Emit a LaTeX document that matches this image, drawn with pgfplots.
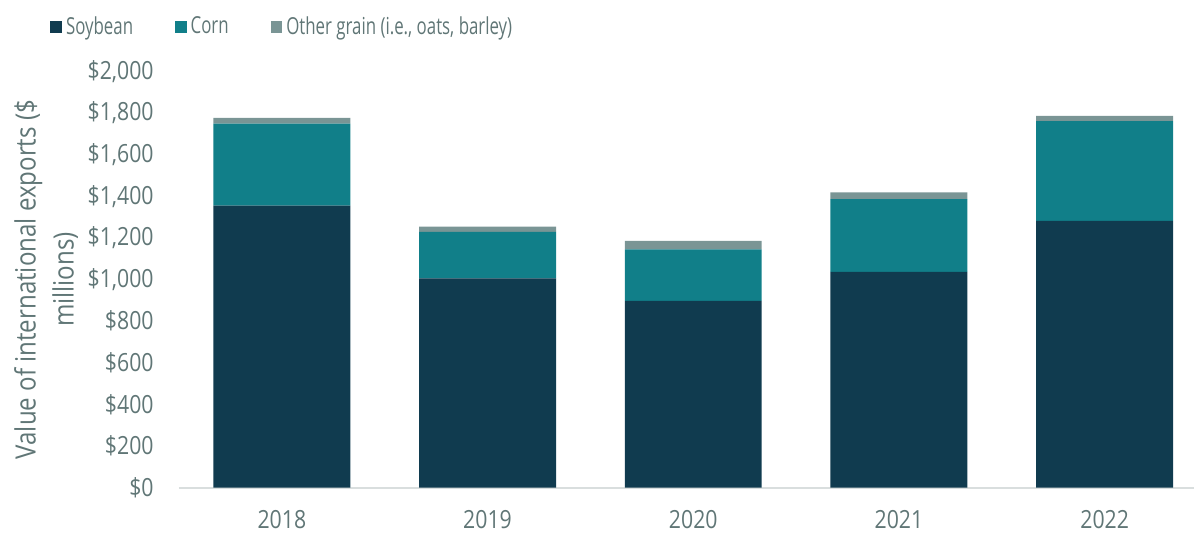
\documentclass[border=0pt]{standalone}
\usepackage{fontspec}
\usepackage{pgfplots}
\pgfplotsset{compat=1.18}
\setmainfont{Open Sans}
\newfontfamily\tickfont{Open Sans}[FakeStretch=0.85]
\newfontfamily\legfont{Open Sans}[FakeStretch=0.72]
\newfontfamily\labfont{Open Sans}[FakeStretch=0.86]
\definecolor{soy}{RGB}{16,59,79}
\definecolor{corn}{RGB}{17,127,137}
\definecolor{other}{RGB}{122,149,149}
\definecolor{txt}{RGB}{96,118,118}
\definecolor{base}{RGB}{217,222,222}
\begin{document}
\begin{tikzpicture}
  % page = 1194 x 534 px at 0.5pt per px
  \path[use as bounding box] (-89.5pt,-23.15pt) rectangle (507.5pt,243.85pt);
  \begin{axis}[
    at={(0,0)}, anchor=south west,
    scale only axis,
    width=514.25pt, height=208.1pt,
    ybar stacked,
    bar width=0.666,
    xmin=-0.5, xmax=4.5,
    ymin=0, ymax=2000,
    xtick={0,1,2,3,4},
    xticklabels={2018,2019,2020,2021,2022},
    ytick={0,200,...,2000},
    yticklabel={\$\pgfmathprintnumber{\tick}},
    /pgf/number format/.cd, fixed, precision=0, 1000 sep={,}, assume math mode=true,
    /pgfplots/.cd,
    axis x line*=bottom,
    axis y line*=left,
    x axis line style={draw=base, line width=0.9pt, -},
    y axis line style={draw=none},
    major tick length=0pt,
    tick label style={font=\tickfont\fontsize{12.5}{15}\selectfont, text=txt},
    yticklabel style={anchor=east, inner sep=0pt, xshift=-12.5pt},
    xticklabel style={anchor=north, inner sep=0pt, yshift=-11pt},
    ylabel={Value of international exports (\$\\millions)},
    ylabel style={at={(axis description cs:-0.1293,0.5)}, anchor=center,
      align=center, font=\labfont\fontsize{14}{19}\selectfont, text=txt},
    legend image code/.code={\fill[#1,draw=none] (0pt,-2.9pt) rectangle (5.8pt,2.9pt);},
    legend style={draw=none, fill=none, legend columns=3,
      at={(axis description cs:-0.1254,1.107)}, anchor=west, inner sep=0pt,
      font=\legfont\fontsize{11.7}{14}\selectfont, text=txt,
      /tikz/every odd column/.append style={column sep=0pt},
      /tikz/every even column/.append style={column sep=19pt}},
    legend cell align=left,
  ]
    \addplot[fill=soy, draw=none] coordinates {(0,1356) (1,1006) (2,898) (3,1037) (4,1282)};
    \addlegendentry{Soybean}
    \addplot[fill=corn, draw=none] coordinates {(0,394) (1,223) (2,247) (3,350) (4,479)};
    \addlegendentry{Corn}
    \addplot[fill=other, draw=none] coordinates {(0,27) (1,25) (2,41) (3,32) (4,26)};
    \addlegendentry{Other grain (i.e., oats, barley)}
  \end{axis}
\end{tikzpicture}
\end{document}
